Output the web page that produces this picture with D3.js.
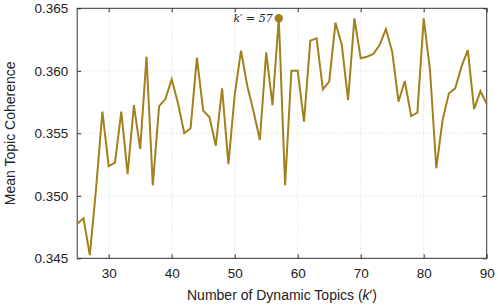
<!DOCTYPE html>
<html><head><meta charset="utf-8">
<script src="https://cdn.jsdelivr.net/npm/d3@7"></script>
<style>body{margin:0;background:#fff}svg{display:block}</style>
</head><body><svg id="c" width="498" height="308"></svg>
<script>
const topics = d3.range(25, 91);
const coherence = [
0.34774,0.34820,0.34526,0.35060,0.35673,0.35238,0.35265,0.35673,0.35174,0.35726,
0.35374,0.36113,0.35084,0.35718,0.35774,0.35932,0.35740,0.35500,0.35540,0.36106,
0.35681,0.35628,0.35401,0.35860,0.35254,0.35806,0.36161,0.35878,0.35673,0.35446,
0.36148,0.35724,0.36420,0.35084,0.36001,0.36000,0.35593,0.36241,0.36260,0.35852,
0.35913,0.36385,0.36206,0.35766,0.36420,0.36100,0.36113,0.36134,0.36206,0.36334,
0.36153,0.35753,0.35918,0.35638,0.35665,0.36420,0.36006,0.35220,0.35606,0.35820,
0.35860,0.36033,0.36166,0.35694,0.35838,0.35734];
const xTicks = [30,40,50,60,70,80,90];
const yTicks = [0.345,0.350,0.355,0.360,0.365];
const best = 57;
const color = "#A2801E";

const svg = d3.select("#c");
const L=77.2, R=486.7, T=8.3, B=258.3;
const x = d3.scaleLinear().domain([25,90]).range([L,R]);
const y = d3.scaleLinear().domain([0.345,0.365]).range([B,T]);
const font = "'Liberation Sans', Arial, Helvetica, sans-serif";

// grid
const g = svg.append("g");
g.selectAll(".gx").data(xTicks.filter(d=>d<90)).enter().append("line")
 .attr("x1",d=>x(d)).attr("x2",d=>x(d)).attr("y1",T).attr("y2",B)
 .attr("stroke","#c8c8c8").attr("stroke-width",0.7).attr("stroke-dasharray","1,2");
g.selectAll(".gy").data(yTicks.filter(d=>d>0.345&&d<0.365)).enter().append("line")
 .attr("y1",d=>y(d)).attr("y2",d=>y(d)).attr("x1",L).attr("x2",R)
 .attr("stroke","#c8c8c8").attr("stroke-width",0.7).attr("stroke-dasharray","1,2");

// axes with inward ticks
const ax = (sel)=>{sel.select(".domain").remove(); sel.selectAll("line").attr("stroke","#333");
 sel.selectAll("text").attr("font-family",font).attr("font-size","13.5px").attr("fill","#222");};
svg.append("g").attr("transform",`translate(0,${B})`)
 .call(d3.axisBottom(x).tickValues(xTicks).tickSize(-4).tickPadding(10).tickFormat(d3.format("d"))).call(ax);
svg.append("g").attr("transform",`translate(0,${T})`)
 .call(d3.axisTop(x).tickValues(xTicks).tickSize(-4).tickFormat("")).call(ax);
svg.append("g").attr("transform",`translate(${L},0)`)
 .call(d3.axisLeft(y).tickValues(yTicks).tickSize(-4).tickPadding(9).tickFormat(d3.format(".3f"))).call(ax);
svg.append("g").attr("transform",`translate(${R},0)`)
 .call(d3.axisRight(y).tickValues(yTicks).tickSize(-4).tickFormat("")).call(ax);

svg.append("rect").attr("x",L).attr("y",T).attr("width",R-L).attr("height",B-T)
 .attr("fill","none").attr("stroke","#333").attr("stroke-width",1);

// line
const data = topics.map((k,i)=>({k, v:coherence[i]}));
svg.append("path").datum(data)
 .attr("d", d3.line().x(d=>x(d.k)).y(d=>y(d.v)))
 .attr("fill","none").attr("stroke",color).attr("stroke-width",2).attr("stroke-linejoin","miter");

const bp = data.find(d=>d.k===best);
svg.append("circle").attr("cx",x(bp.k)).attr("cy",y(bp.v)).attr("r",4.2).attr("fill",color);
const ann = svg.append("text").attr("x",x(bp.k)-6).attr("y",y(bp.v)+4)
 .attr("text-anchor","end").attr("font-family","'DejaVu Serif','Liberation Serif',serif")
 .attr("font-size","11px").attr("fill","#222");
ann.append("tspan").attr("font-style","italic").text("k");
ann.append("tspan").text("′ = ");
ann.append("tspan").attr("font-style","italic").text("57");

// axis titles
const xt = svg.append("text").attr("x",(L+R)/2).attr("y",300).attr("text-anchor","middle")
 .attr("font-family",font).attr("font-size","14px").attr("fill","#222");
xt.append("tspan").text("Number of Dynamic Topics (");
xt.append("tspan").attr("font-style","italic").text("k");
xt.append("tspan").text("′)");
svg.append("text").attr("transform",`translate(15,${(T+B)/2}) rotate(-90)`).attr("text-anchor","middle")
 .attr("font-family",font).attr("font-size","14px").attr("fill","#222").text("Mean Topic Coherence");
</script></body></html>
